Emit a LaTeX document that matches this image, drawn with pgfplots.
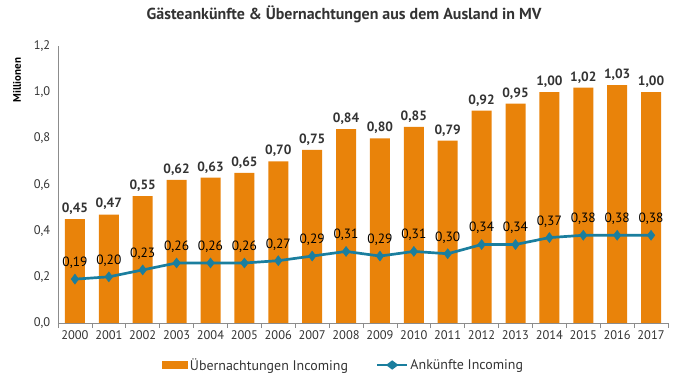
\documentclass[border=0pt]{standalone}
\usepackage{pgfplots}
\pgfplotsset{compat=1.18}
\usepackage{fontspec}
\setmainfont{PT Sans}
\definecolor{barc}{HTML}{E9830A}
\definecolor{linc}{HTML}{1A7E9E}
\definecolor{axc}{HTML}{8C8C8C}
\definecolor{txt}{HTML}{333333}
\begin{document}
\begin{tikzpicture}
\begin{axis}[
  scale only axis, width=610bp, height=277bp,
  xmin=1999.5, xmax=2017.5, ymin=0, ymax=1.2,
  axis x line*=bottom, axis y line*=left,
  axis line style={axc, line width=0.6pt, -},
  ytick={0,0.2,0.4,0.6,0.8,1.0,1.2},
  xtick={2000,...,2017},
  minor xtick={1999.5,2000.5,...,2017.5},
  tick align=outside,
  major x tick style={draw=none},
  major y tick style={draw=none},
  minor x tick style={axc, line width=0.6pt},
  minor tick length=5bp,
  yticklabel style={/pgf/number format/.cd, use comma, fixed, fixed zerofill, precision=1, assume math mode=true},
  xticklabel style={/pgf/number format/.cd, 1000 sep={}, assume math mode=true},
  tick label style={font=\fontsize{12.5}{15}\selectfont, text=txt},
  title={Gästeankünfte \& Übernachtungen aus dem Ausland in MV},
  title style={font=\bfseries\fontsize{16}{19}\selectfont, text=txt, at={(0.469,1)}, anchor=center, yshift=26bp},
  ylabel={Millionen},
  ylabel style={font=\bfseries\fontsize{11}{13}\selectfont, text=black, at={(-0.0672,0.877)}, anchor=center},
  legend style={at={(0.468,0)}, anchor=center, yshift=-42bp, draw=none, fill=none, font=\fontsize{14}{16}\selectfont, text=txt, /tikz/every even column/.append style={column sep=26bp}},
  legend columns=2,
]
\addplot[ybar, bar width=20bp, fill=barc, draw=none,
  nodes near coords={\pgfmathprintnumber[use comma,fixed,fixed zerofill,precision=2,assume math mode=true]{\pgfplotspointmeta}},
  nodes near coords style={font=\bfseries\fontsize{13.5}{15}\selectfont, text=txt, anchor=south, yshift=1bp},
  legend image code/.code={\fill[barc] (0bp,-4bp) rectangle (26bp,4bp);}]
coordinates {
(2000,0.45) (2001,0.47) (2002,0.55) (2003,0.62) (2004,0.63) (2005,0.65)
(2006,0.70) (2007,0.75) (2008,0.84) (2009,0.80) (2010,0.85) (2011,0.79)
(2012,0.92) (2013,0.95) (2014,1.00) (2015,1.02) (2016,1.03) (2017,1.00)};
\addlegendentry{Übernachtungen Incoming}
\addplot[linc, line width=2.7pt, mark=diamond*, mark size=5bp, mark options={solid, line width=0.5pt, fill=linc},
  nodes near coords={\pgfmathprintnumber[use comma,fixed,fixed zerofill,precision=2,assume math mode=true]{\pgfplotspointmeta}},
  nodes near coords style={font=\fontsize{13.5}{15}\selectfont, text=black, anchor=south, yshift=7bp},
  legend image code/.code={\draw[linc, line width=2.5pt] (0bp,0bp) -- (30bp,0bp); \fill[linc] (15bp,0bp) +(-4bp,0) -- +(0,3bp) -- +(4bp,0) -- +(0,-3bp) -- cycle;}]
coordinates {
(2000,0.19) (2001,0.20) (2002,0.23) (2003,0.26) (2004,0.26) (2005,0.26)
(2006,0.27) (2007,0.29) (2008,0.31) (2009,0.29) (2010,0.31) (2011,0.30)
(2012,0.34) (2013,0.34) (2014,0.37) (2015,0.38) (2016,0.38) (2017,0.38)};
\addlegendentry{Ankünfte Incoming}
\end{axis}
\pgfresetboundingbox
\path[use as bounding box] ([xshift=-58bp,yshift=-55bp]current axis.south west) rectangle ([xshift=12bp,yshift=46bp]current axis.north east);
\end{tikzpicture}
\end{document}
